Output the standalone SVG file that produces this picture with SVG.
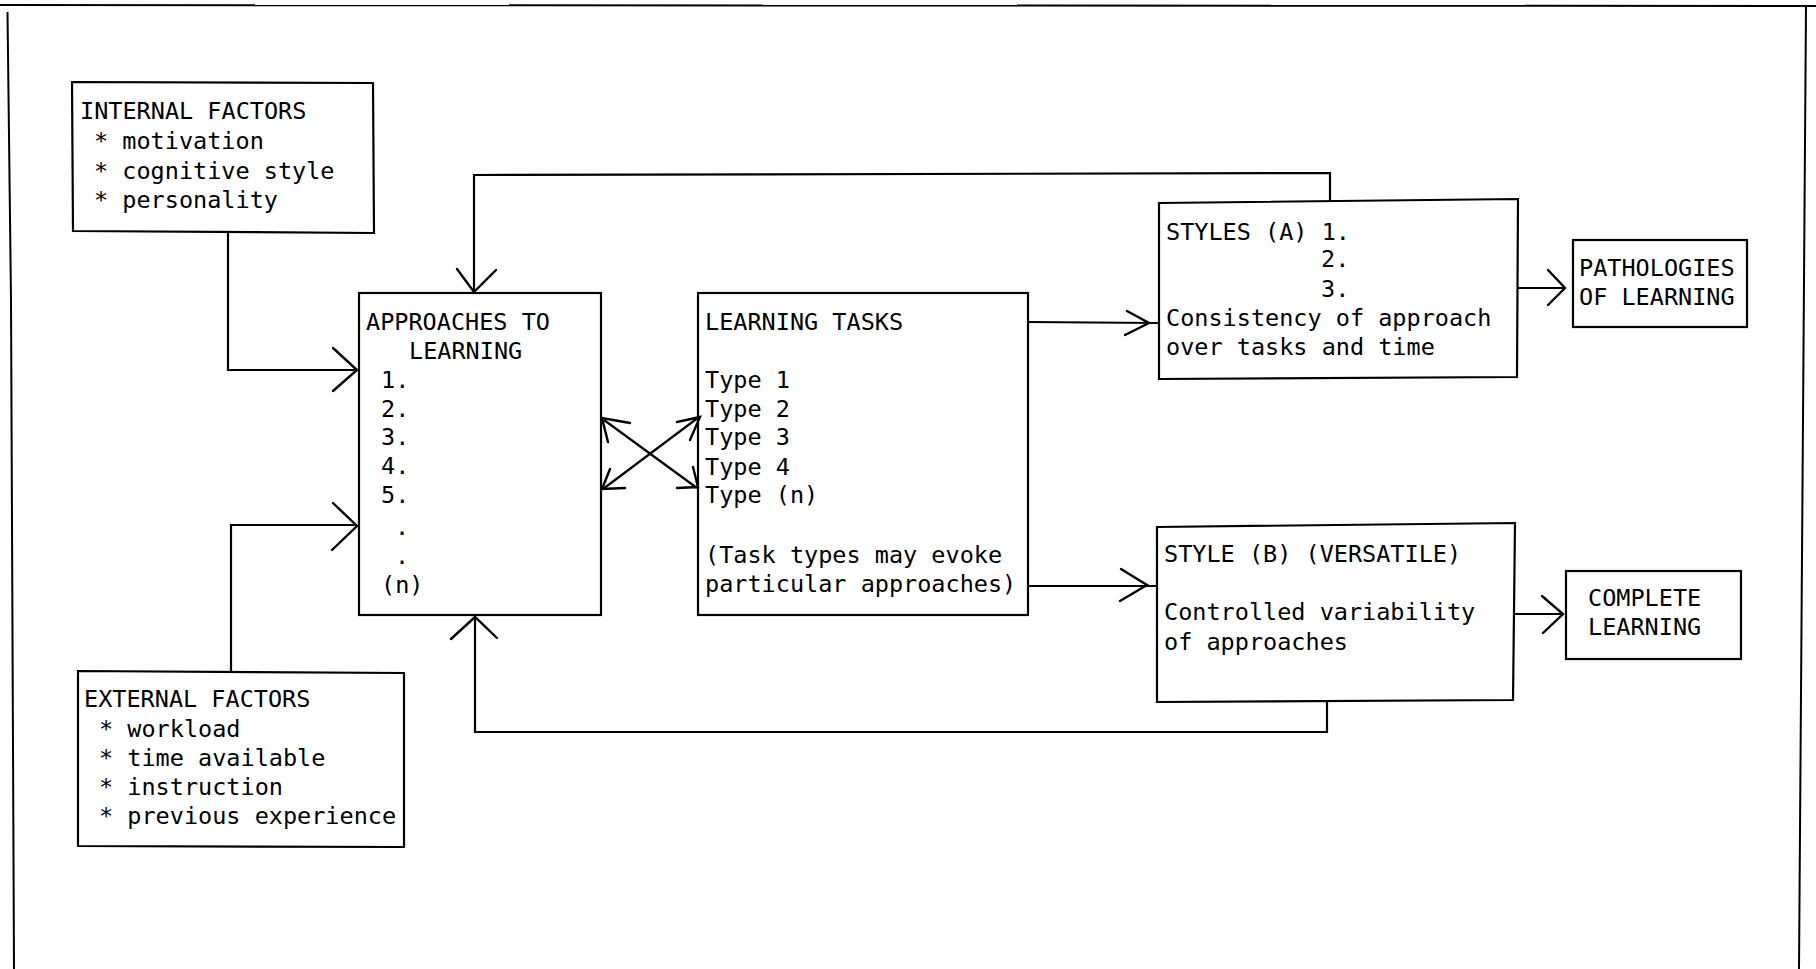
<svg xmlns="http://www.w3.org/2000/svg" width="1816" height="969" viewBox="0 0 1816 969">
<style>
.bg{fill:#fff}
.box{fill:none;stroke:#000;stroke-width:2.2}
.ln{fill:none;stroke:#000;stroke-width:2.2;stroke-linejoin:miter}
.hd{fill:none;stroke:#000;stroke-width:2.4;stroke-linecap:round;stroke-linejoin:miter}
.fr{fill:none;stroke:#000;stroke-width:2}
text{font-family:"DejaVu Sans Mono","Liberation Mono",monospace;font-size:23.5px;fill:#000}
</style>
<rect class="bg" x="0" y="0" width="1816" height="969"/>
<g id="frame">
<path class="fr" d="M0,5 L1816,6"/>
<path class="fr" d="M7.5,12 L11,300 L14,969"/>
<path class="fr" d="M1806,6 L1799,969"/>
</g>
<g id="connectors">
<path class="ln" d="M228,233 L228,370 L356,370"/>
<path class="hd" d="M333,348 L357,370 L333,391"/>
<path class="ln" d="M231,673 L231,525 L356,525"/>
<path class="hd" d="M333,503 L357,526 L332,550"/>
<path class="ln" d="M1330,201 L1330,173 L474,175 L474,291"/>
<path class="hd" d="M457,269 L474,292 L496,270"/>
<path class="ln" d="M1327,701 L1327,732 L475,732 L475,618"/>
<path class="hd" d="M451,639 L475,617 L497,638"/>
<path class="ln" d="M604,420 L697,488"/>
<path class="ln" d="M603,489 L699,417"/>
<path class="hd" d="M630,423 L602,418 L608,442"/>
<path class="hd" d="M677,422 L700,417 L690,440"/>
<path class="hd" d="M625,488 L602,489 L610,469"/>
<path class="hd" d="M677,488 L698,487 L693,467"/>
<path class="ln" d="M1028,322 L1158,323"/>
<path class="hd" d="M1127,311 L1149,323 L1125,335"/>
<path class="ln" d="M1028,586 L1157,586"/>
<path class="hd" d="M1121,569 L1147,585 L1120,601"/>
<path class="ln" d="M1518,288 L1565,288"/>
<path class="hd" d="M1548,270 L1565,288 L1548,305"/>
<path class="ln" d="M1514,614 L1563,614"/>
<path class="hd" d="M1542,596 L1563,614 L1543,633"/>
</g>
<g id="internal-factors">
<path class="box" d="M72,82 L373,83 L374,233 L73,231 Z"/>
<text x="80" y="119">INTERNAL FACTORS</text>
<text x="94" y="149">* motivation</text>
<text x="94" y="179">* cognitive style</text>
<text x="94" y="208">* personality</text>
</g>
<g id="external-factors">
<path class="box" d="M78,671 L404,673 L404,847 L78,846 Z"/>
<text x="84" y="707">EXTERNAL FACTORS</text>
<text x="99" y="737">* workload</text>
<text x="99" y="766">* time available</text>
<text x="99" y="795">* instruction</text>
<text x="99" y="824">* previous experience</text>
</g>
<g id="approaches">
<rect class="box" x="359" y="293" width="242" height="322"/>
<text x="366" y="330">APPROACHES TO</text>
<text x="409" y="359">LEARNING</text>
<text x="381" y="388">1.</text>
<text x="381" y="417">2.</text>
<text x="381" y="445">3.</text>
<text x="381" y="474">4.</text>
<text x="381" y="503">5.</text>
<text x="395" y="535">.</text>
<text x="395" y="564">.</text>
<text x="381" y="593">(n)</text>
</g>
<g id="learning-tasks">
<rect class="box" x="698" y="293" width="330" height="322"/>
<text x="705" y="330">LEARNING TASKS</text>
<text x="705" y="388">Type 1</text>
<text x="705" y="417">Type 2</text>
<text x="705" y="445">Type 3</text>
<text x="705" y="475">Type 4</text>
<text x="705" y="503">Type (n)</text>
<text x="705" y="563">(Task types may evoke</text>
<text x="705" y="592">particular approaches)</text>
</g>
<g id="styles-a">
<path class="box" d="M1159,203 L1518,199 L1517,377 L1159,379 Z"/>
<text x="1166" y="240">STYLES (A) 1.</text>
<text x="1321" y="267">2.</text>
<text x="1321" y="297">3.</text>
<text x="1166" y="326">Consistency of approach</text>
<text x="1166" y="355">over tasks and time</text>
</g>
<g id="pathologies">
<rect class="box" x="1573" y="240" width="174" height="87"/>
<text x="1579" y="276">PATHOLOGIES</text>
<text x="1579" y="305">OF LEARNING</text>
</g>
<g id="style-b">
<path class="box" d="M1157,527 L1515,523 L1513,700 L1157,702 Z"/>
<text x="1164" y="562">STYLE (B) (VERSATILE)</text>
<text x="1164" y="620">Controlled variability</text>
<text x="1164" y="650">of approaches</text>
</g>
<g id="complete">
<rect class="box" x="1566" y="571" width="175" height="88"/>
<text x="1588" y="606">COMPLETE</text>
<text x="1588" y="635">LEARNING</text>
</g>
</svg>
